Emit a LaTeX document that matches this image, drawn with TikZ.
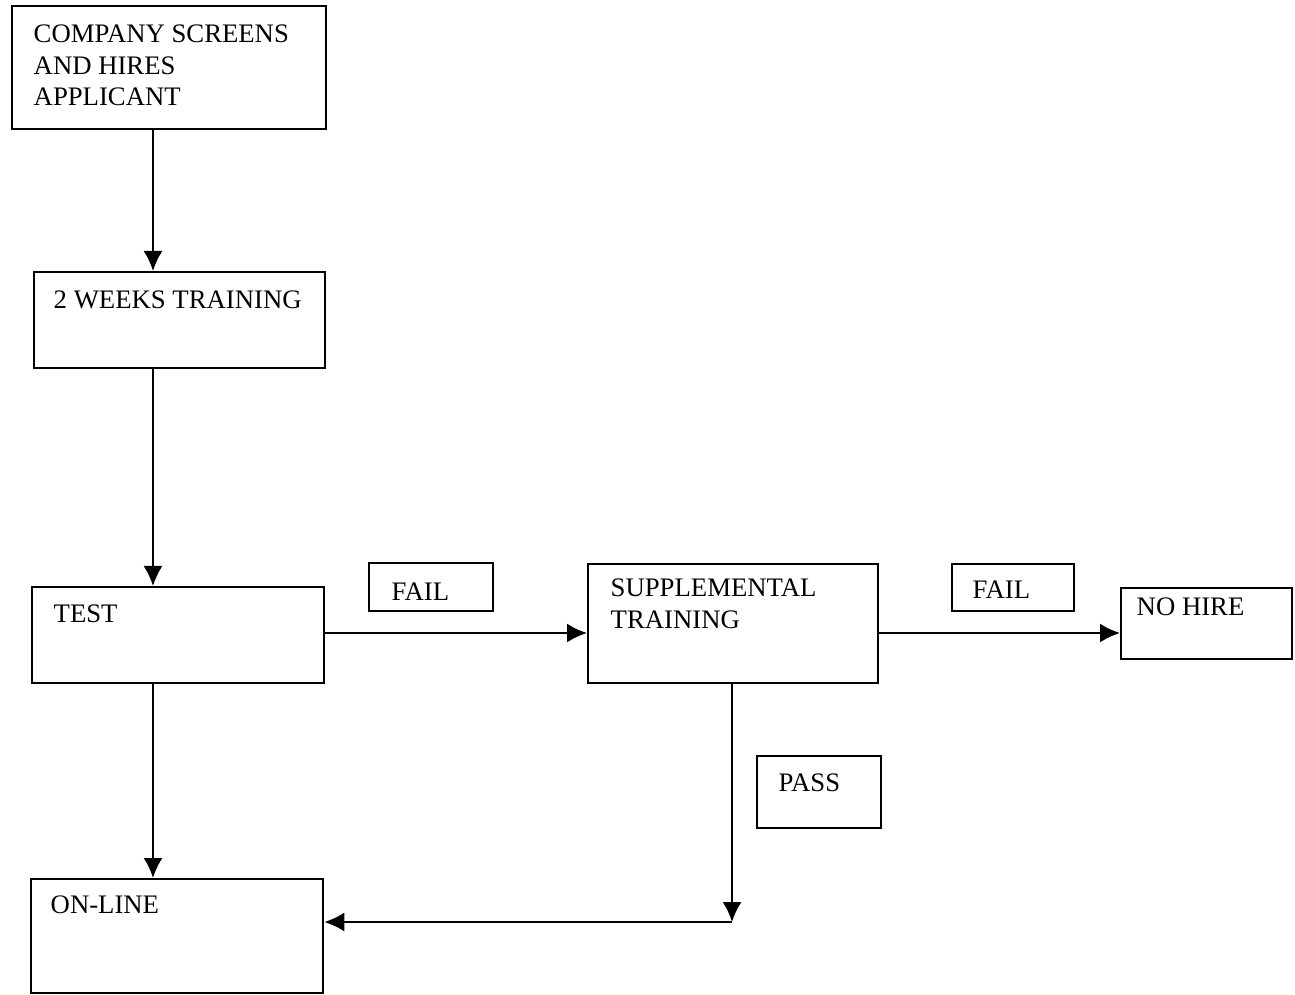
\documentclass[tikz,border=0pt]{standalone}
\usepackage{fontspec}
\setmainfont{Liberation Serif}
\usetikzlibrary{arrows.meta}
\begin{document}
\begin{tikzpicture}[x=0.01cm,y=-0.01cm]
	\tikzstyle{stepbox}=[draw, line width=0.6pt, anchor=north west, inner sep=0pt]
	\tikzstyle{boxtext}=[anchor=north west, align=left, inner sep=0pt, font=\fontsize{7.6}{9}\selectfont]
	\tikzstyle{flow}=[draw, line width=0.6pt, -{Latex[length=0.2cm,width=0.19cm]}]
	\useasboundingbox (0,0) rectangle (1295,994);

	% boxes
	\node[stepbox, minimum width=3.14cm, minimum height=1.23cm] (hire) at (11,5) {};
	\node[stepbox, minimum width=2.91cm, minimum height=0.96cm] (train) at (33,271) {};
	\node[stepbox, minimum width=2.92cm, minimum height=0.96cm] (test) at (31,586) {};
	\node[stepbox, minimum width=2.92cm, minimum height=1.14cm] (online) at (30,878) {};
	\node[stepbox, minimum width=2.90cm, minimum height=1.19cm] (suppl) at (587,563) {};
	\node[stepbox, minimum width=1.71cm, minimum height=0.71cm] (nohire) at (1120,587) {};
	\node[stepbox, minimum width=1.24cm, minimum height=0.48cm] (fail1) at (368,562) {};
	\node[stepbox, minimum width=1.22cm, minimum height=0.47cm] (fail2) at (951,563) {};
	\node[stepbox, minimum width=1.24cm, minimum height=0.72cm] (pass) at (756,755) {};

	% texts
	\node[boxtext] at ([xshift=0.22cm,yshift=-0.19cm]hire.north west) {COMPANY SCREENS\\AND HIRES\\APPLICANT};
	\node[boxtext] at ([xshift=0.20cm,yshift=-0.19cm]train.north west) {2 WEEKS TRAINING};
	\node[boxtext] at ([xshift=0.22cm,yshift=-0.18cm]test.north west) {TEST};
	\node[boxtext] at ([xshift=0.20cm,yshift=-0.17cm]online.north west) {ON-LINE};
	\node[boxtext] at ([xshift=0.23cm,yshift=-0.15cm]suppl.north west) {SUPPLEMENTAL\\TRAINING};
	\node[boxtext] at ([xshift=0.16cm,yshift=-0.10cm]nohire.north west) {NO HIRE};
	\node[boxtext] at ([xshift=0.23cm,yshift=-0.20cm]fail1.north west) {FAIL};
	\node[boxtext] at ([xshift=0.21cm,yshift=-0.17cm]fail2.north west) {FAIL};
	\node[boxtext] at ([xshift=0.22cm,yshift=-0.18cm]pass.north west) {PASS};

	% connectors
	\coordinate (col1) at (153,0);
	\coordinate (col2) at (732,0);
	\coordinate (row1) at (0,633);
	\coordinate (bend) at (732,922);
	\draw[flow] (hire.south -| col1) -- (train.north -| col1);
	\draw[flow] (train.south -| col1) -- (test.north -| col1);
	\draw[flow] (test.south -| col1) -- (online.north -| col1);
	\draw[flow] (test.east |- row1) -- (suppl.west |- row1);
	\draw[flow] (suppl.east |- row1) -- (nohire.west |- row1);
	\draw[flow] (suppl.south -| col2) -- (bend);
	\draw[flow] (bend) -- (online.east |- bend);
\end{tikzpicture}
\end{document}
